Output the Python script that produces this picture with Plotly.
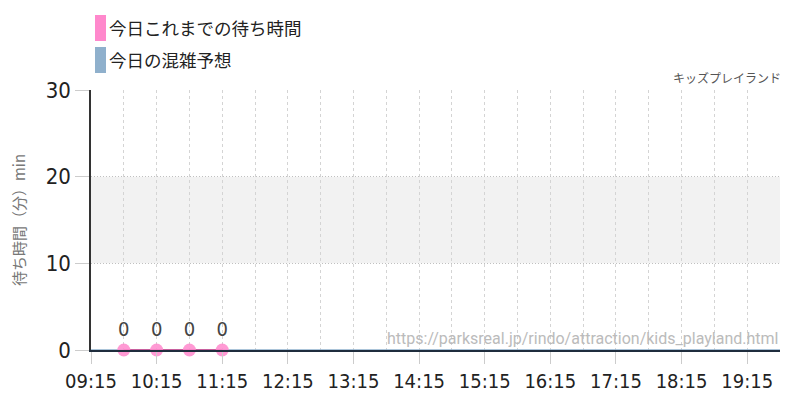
import plotly.graph_objects as go

# 今日これまでの待ち時間
wait_times = ["2024-05-01 09:45", "2024-05-01 10:15", "2024-05-01 10:45", "2024-05-01 11:15"]
wait_values = [0, 0, 0, 0]

# 今日の混雑予想
forecast_times = ["2024-05-01 09:15", "2024-05-01 11:15", "2024-05-01 13:15", "2024-05-01 15:15",
                  "2024-05-01 17:15", "2024-05-01 19:45"]
forecast_values = [0, 0, 0, 0, 0, 0]

x_range = ["2024-05-01 09:15", "2024-05-01 19:45"]
y_range = [0, 30]
band = [10, 20]

attraction = "キッズプレイランド"
source_url = "https://parksreal.jp/rindo/attraction/kids_playland.html"
legend_names = ["今日これまでの待ち時間", "今日の混雑予想"]
legend_colors = ["#ff88cc", "#8fb0cc"]

NARROW = "DejaVu Sans Condensed, Liberation Sans Narrow, sans-serif"
JP = "Noto Sans CJK JP, sans-serif"

# ページ余白(8px)を差し引いた位置
L, T, W, H = 83, 82, 689, 260

fig = go.Figure()

fig.add_trace(go.Scatter(
    x=forecast_times, y=forecast_values, mode="lines",
    line=dict(color="#8fb0cc", width=1.5), hoverinfo="skip", cliponaxis=False,
))
fig.add_trace(go.Scatter(
    x=wait_times, y=wait_values, mode="lines+markers+text",
    line=dict(color="#c8609e", width=2),
    marker=dict(color="#ff88cc", size=13, opacity=0.85),
    text=[str(v) for v in wait_values], textposition="top center",
    textfont=dict(family=NARROW, size=20, color="#444"),
    cliponaxis=False,
))

fig.add_shape(type="rect", xref="paper", yref="y", x0=0, x1=1, y0=band[0], y1=band[1],
              fillcolor="#f2f2f2", line=dict(width=0), layer="below")

# 凡例 (座標はプロット領域基準のpx)
for i, (name, col) in enumerate(zip(legend_names, legend_colors)):
    top = -75 + i * 32
    fig.add_shape(type="rect", xref="paper", yref="paper",
                  x0=4 / W, x1=15 / W,
                  y0=(H - top) / H, y1=(H - top - 26) / H,
                  fillcolor=col, line=dict(width=0))
    fig.add_annotation(text=name, xref="paper", yref="paper",
                       x=16 / W, y=(H - top - 13) / H,
                       xanchor="left", yanchor="middle", showarrow=False,
                       font=dict(family=JP, size=17.5, color="#222"))

fig.add_annotation(text=attraction, xref="paper", yref="paper", x=1 + 3 / W, y=(H + 12) / H,
                   xanchor="right", yanchor="middle", showarrow=False,
                   font=dict(family=JP, size=12, color="#555"))
fig.add_annotation(text=source_url, xref="paper", yref="paper", x=1, y=12 / H,
                   xanchor="right", yanchor="middle", showarrow=False,
                   font=dict(family="Roboto, sans-serif", size=16, color="#bbbbbb"))

fig.update_layout(
    width=800, height=400,
    margin=dict(l=L, r=800 - L - W, t=T, b=400 - T - H),
    plot_bgcolor="white", paper_bgcolor="white",
    showlegend=False,
    xaxis=dict(
        type="date", range=x_range, tickformat="%H:%M",
        tick0="2024-05-01 09:15", dtick=3600000,
        showgrid=True, gridcolor="#d4d4d4", griddash="3px,3px", gridwidth=1,
        ticks="outside", ticklen=12, tickcolor="#cccccc",
        tickfont=dict(family=NARROW, size=20, color="#222"),
        minor=dict(dtick=1800000, tick0="2024-05-01 09:15", showgrid=True,
                   gridcolor="#d4d4d4", griddash="3px,3px"),
        showline=True, linecolor="#1f2d3d", linewidth=1.5,
        zeroline=False, fixedrange=True, automargin=False,
    ),
    yaxis=dict(
        range=y_range, tickvals=[0, 10, 20, 30],
        showgrid=True, gridcolor="#c0c0c0", griddash="1px,2px",
        ticks="outside", ticklen=14, tickcolor="#cccccc",
        tickfont=dict(family=NARROW, size=22, color="#222"),
        showline=True, linecolor="#333", linewidth=1.5,
        zeroline=False, automargin=False,
        title=dict(text="待ち時間（分）min", standoff=21,
                   font=dict(family=JP, size=15, color="#777")),
    ),
)

fig.write_html("out.html")
